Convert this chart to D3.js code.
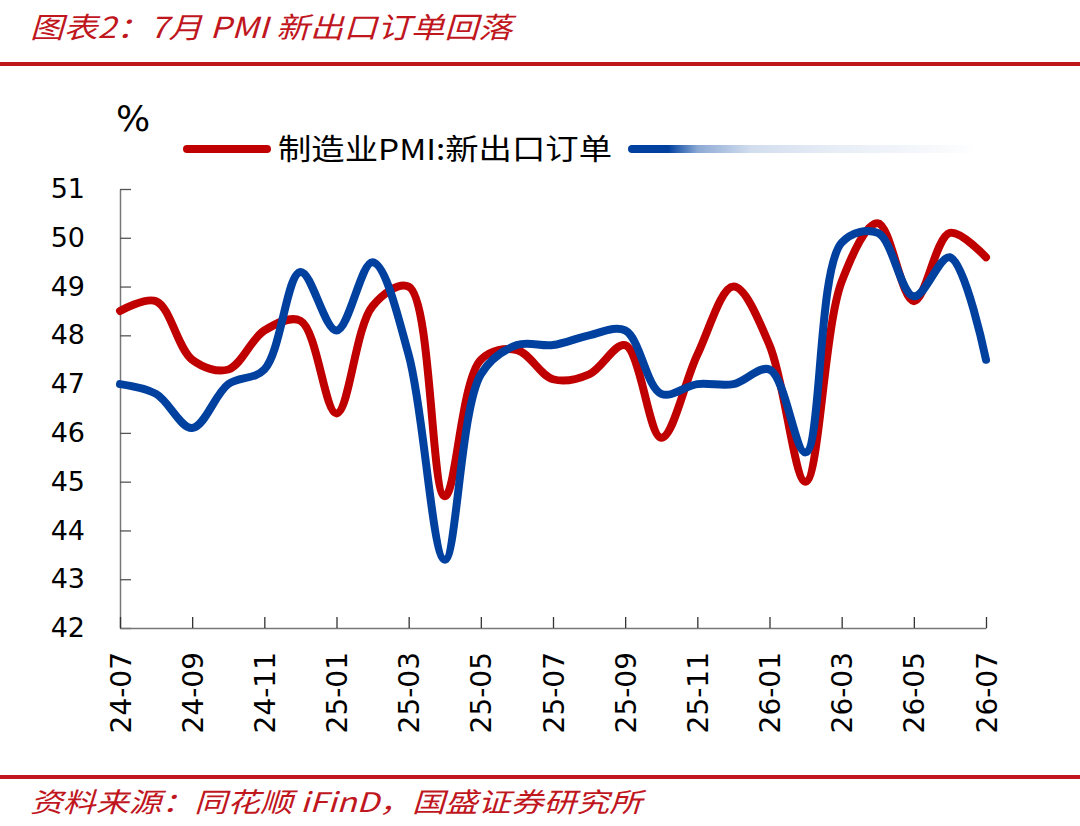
<!DOCTYPE html>
<html>
<head>
<meta charset="utf-8">
<script src="https://cdn.jsdelivr.net/npm/d3@7/dist/d3.min.js"></script>
<style>
  body { margin: 0; background: #fff; }
  svg { display: block; }
</style>
</head>
<body>
<script>
// 月份 24-07 ... 26-07
var months = ["24-07","24-08","24-09","24-10","24-11","24-12",
              "25-01","25-02","25-03","25-04","25-05","25-06",
              "25-07","25-08","25-09","25-10","25-11","25-12",
              "26-01","26-02","26-03","26-04","26-05","26-06","26-07"];

// 制造业PMI:新出口订单 (红)
var exportOrders = [48.5, 48.7, 47.5, 47.3, 48.1, 48.3,
                    46.4, 48.6, 49.0, 44.7, 47.5, 47.7,
                    47.1, 47.2, 47.8, 45.9, 47.6, 49.0,
                    47.8, 45.0, 49.1, 50.3, 48.7, 50.1, 49.6];

// 第二条序列 (蓝)
var blueSeries = [47.0, 46.8, 46.1, 47.0, 47.3, 49.3,
                  48.1, 49.5, 47.6, 43.4, 47.2, 47.8,
                  47.8, 48.0, 48.1, 46.8, 47.0, 47.0,
                  47.3, 45.6, 49.9, 50.1, 48.8, 49.6, 47.5];

var yTicks = [42, 43, 44, 45, 46, 47, 48, 49, 50, 51];

var legendLabel = "制造业PMI:新出口订单";
var titleText = "图表2：7月 PMI 新出口订单回落";
var sourceText = "资料来源：同花顺 iFinD，国盛证券研究所";

var width = 1080,
    height = 826;

var red = "#C00000",
    blue = "#0041A0",
    themeRed = "#C0161E";

var svg = d3.select("body").append("svg")
    .attr("width", width)
    .attr("height", height);

var defs = svg.append("defs");

// 标题
svg.append("text")
    .attr("x", 30)
    .attr("y", 38)
    .attr("textLength", 482)
    .attr("lengthAdjust", "spacingAndGlyphs")
    .style("font-family", "'Noto Sans CJK SC', sans-serif")
    .style("font-style", "italic")
    .style("font-size", "29px")
    .style("fill", themeRed)
    .text(titleText);

svg.append("rect")
    .attr("x", 0).attr("y", 62)
    .attr("width", width).attr("height", 4)
    .attr("fill", themeRed);

// 底部
svg.append("rect")
    .attr("x", 0).attr("y", 775)
    .attr("width", width).attr("height", 4)
    .attr("fill", themeRed);

svg.append("text")
    .attr("x", 30)
    .attr("y", 812)
    .attr("textLength", 612)
    .attr("lengthAdjust", "spacingAndGlyphs")
    .style("font-family", "'Noto Sans CJK SC', sans-serif")
    .style("font-style", "italic")
    .style("font-size", "27px")
    .style("fill", themeRed)
    .text(sourceText);

// 比例尺
var xScale = d3.scaleLinear().domain([0, months.length - 1]).range([120, 986]);
var yScale = d3.scaleLinear().domain([42, 51]).range([628, 189]);

var axisFont = "'DejaVu Sans', Verdana, sans-serif";

var yAxis = d3.axisLeft(yScale)
    .tickValues(yTicks)
    .tickFormat(d3.format("d"))
    .tickSizeInner(-11)
    .tickSizeOuter(0)
    .tickPadding(35);

var gy = svg.append("g")
    .attr("transform", "translate(120,0)")
    .call(yAxis);
gy.select(".domain").attr("stroke", "#777").attr("stroke-width", 1.5);
gy.selectAll(".tick line").attr("stroke", "#555").attr("stroke-width", 1.3);
gy.selectAll(".tick text")
    .style("font-family", axisFont)
    .style("font-size", "27px")
    .style("fill", "#000");

var xAxis = d3.axisBottom(xScale)
    .tickValues(d3.range(0, months.length, 2))
    .tickFormat(function (i) { return months[i]; })
    .tickSizeInner(-11)
    .tickSizeOuter(0);

var gx = svg.append("g")
    .attr("transform", "translate(0,628)")
    .call(xAxis);
gx.select(".domain").attr("stroke", "#777").attr("stroke-width", 1.5);
gx.selectAll(".tick line").attr("stroke", "#333").attr("stroke-width", 1.3);
gx.selectAll(".tick text")
    .attr("transform", "rotate(-90)")
    .attr("text-anchor", "end")
    .attr("x", -24)
    .attr("y", 0)
    .attr("dy", "0.36em")
    .style("font-family", axisFont)
    .style("font-size", "28px")
    .style("fill", "#000");

// "%" 单位
svg.append("text")
    .attr("x", 116)
    .attr("y", 131)
    .style("font-family", axisFont)
    .style("font-size", "36px")
    .style("fill", "#000")
    .text("%");

// 平滑曲线
var line = d3.line()
    .x(function (d, i) { return xScale(i); })
    .y(function (d) { return yScale(d); })
    .curve(d3.curveCatmullRom.alpha(0.5));

svg.append("path")
    .attr("d", line(exportOrders))
    .style("stroke", red)
    .style("stroke-width", 8)
    .style("stroke-linecap", "round")
    .style("fill", "none");

svg.append("path")
    .attr("d", line(blueSeries))
    .style("stroke", blue)
    .style("stroke-width", 8)
    .style("stroke-linecap", "round")
    .style("fill", "none");

// 图例
svg.append("line")
    .attr("x1", 187).attr("x2", 267)
    .attr("y1", 149).attr("y2", 149)
    .style("stroke", red)
    .style("stroke-width", 8)
    .style("stroke-linecap", "round");

svg.append("text")
    .attr("x", 278)
    .attr("y", 160)
    .attr("textLength", 334)
    .attr("lengthAdjust", "spacingAndGlyphs")
    .style("font-family", "'Noto Sans CJK SC', sans-serif")
    .style("font-size", "29px")
    .style("fill", "#000")
    .text(legendLabel);

var fade = defs.append("linearGradient")
    .attr("id", "fade")
    .attr("gradientUnits", "userSpaceOnUse")
    .attr("x1", 628).attr("x2", 978)
    .attr("y1", 0).attr("y2", 0);
[[0, 1], [0.115, 1], [0.2, 0.45], [0.35, 0.18], [0.6, 0.09], [0.85, 0.04], [1, 0]]
    .forEach(function (s) {
        fade.append("stop")
            .attr("offset", s[0])
            .attr("stop-color", blue)
            .attr("stop-opacity", s[1]);
    });

svg.append("rect")
    .attr("x", 628).attr("y", 145)
    .attr("width", 350).attr("height", 8)
    .attr("rx", 4)
    .attr("fill", "url(#fade)");
</script>
</body>
</html>
